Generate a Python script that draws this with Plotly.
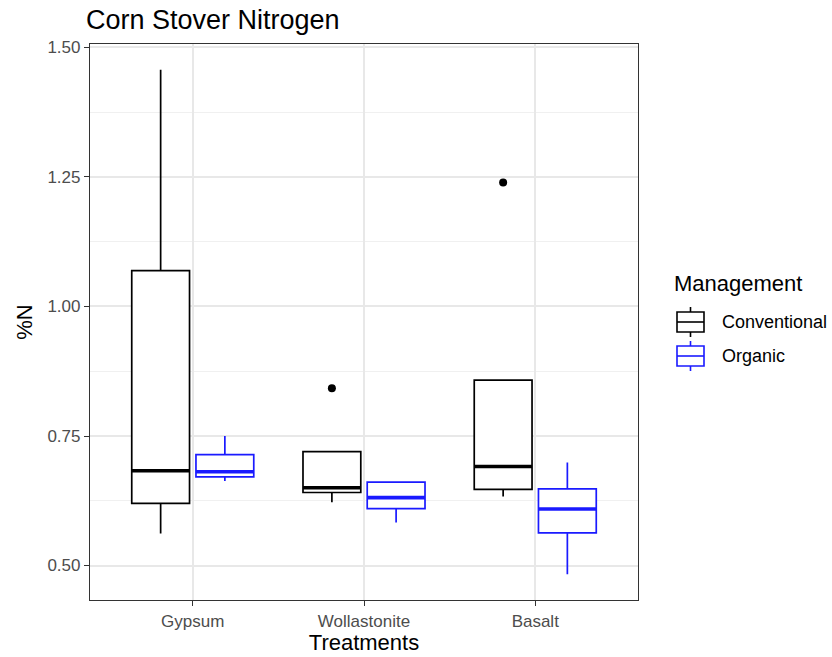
import plotly.graph_objects as go

# Corn stover %N by treatment and management (box summaries)
treatments = ["Gypsum", "Wollastonite", "Basalt"]

conv_low = [0.562, 0.622, 0.633]
conv_q1 = [0.620, 0.641, 0.647]
conv_med = [0.683, 0.650, 0.691]
conv_q3 = [1.069, 0.720, 0.858]
conv_high = [1.457, 0.720, 0.858]
conv_out_treat = ["Wollastonite", "Basalt"]
conv_out_val = [0.842, 1.239]

org_low = [0.663, 0.583, 0.483]
org_q1 = [0.671, 0.610, 0.563]
org_med = [0.681, 0.631, 0.609]
org_q3 = [0.714, 0.661, 0.648]
org_high = [0.750, 0.661, 0.699]

management = ["Conventional", "Organic"]
colors = ["black", "#1a1aff"]
offsets = [-0.1875, 0.1875]
stats = [
    (conv_low, conv_q1, conv_med, conv_q3, conv_high),
    (org_low, org_q1, org_med, org_q3, org_high),
]
BOX_W = 0.3375

FONT = "Liberation Sans, Arial, sans-serif"
W, H = 832, 657
ML, MR, MT, MB = 90, 194, 44, 57
PW, PH = W - ML - MR, H - MT - MB

fig = go.Figure()

for name, color, off, (lo, q1, med, q3, hi) in zip(management, colors, offsets, stats):
    xs = [i + 1 + off for i in range(len(treatments))]
    fig.add_trace(go.Box(
        name=name, x=xs, lowerfence=lo, q1=q1, median=med, q3=q3, upperfence=hi,
        width=BOX_W, whiskerwidth=0, fillcolor="white",
        line=dict(color=color, width=1.7), showlegend=False,
    ))
    # heavier median bar
    for x, m in zip(xs, med):
        fig.add_trace(go.Scatter(
            x=[x - BOX_W / 2, x + BOX_W / 2], y=[m, m], mode="lines",
            line=dict(color=color, width=3.6), showlegend=False, hoverinfo="skip",
        ))

# outlying points for the conventional group
fig.add_trace(go.Scatter(
    x=[treatments.index(t) + 1 - 0.1875 for t in conv_out_treat], y=conv_out_val,
    mode="markers", marker=dict(color="black", size=8), showlegend=False,
))


def px_x(p):
    return (p - ML) / PW


def px_y(p):
    return (MT + PH - p) / PH


# legend drawn as box-shaped keys beside the panel
shapes = []
annotations = [dict(
    text="Management", x=px_x(672), y=px_y(283), xref="paper", yref="paper",
    xanchor="left", yanchor="middle", showarrow=False,
    font=dict(family=FONT, size=22, color="black"),
)]
for k, (name, color) in enumerate(zip(management, colors)):
    cy = 322 + 34 * k
    x0, x1, xc = 677, 704, 690.5
    line = dict(color=color, width=1.6)
    shapes += [
        dict(type="rect", xref="paper", yref="paper", x0=px_x(x0), x1=px_x(x1),
             y0=px_y(cy - 10), y1=px_y(cy + 10), line=line, fillcolor="white"),
        dict(type="line", xref="paper", yref="paper", x0=px_x(x0), x1=px_x(x1),
             y0=px_y(cy), y1=px_y(cy), line=line),
        dict(type="line", xref="paper", yref="paper", x0=px_x(xc), x1=px_x(xc),
             y0=px_y(cy - 15), y1=px_y(cy - 10), line=line),
        dict(type="line", xref="paper", yref="paper", x0=px_x(xc), x1=px_x(xc),
             y0=px_y(cy + 10), y1=px_y(cy + 15), line=line),
    ]
    annotations.append(dict(
        text=name, x=px_x(720), y=px_y(cy), xref="paper", yref="paper",
        xanchor="left", yanchor="middle", showarrow=False,
        font=dict(family=FONT, size=18, color="black"),
    ))

axis_common = dict(
    showline=True, linecolor="#333333", linewidth=1.2, mirror=True,
    ticks="outside", ticklen=5, tickcolor="#333333", tickwidth=1.2,
    tickfont=dict(family=FONT, size=17, color="#4d4d4d"),
    gridcolor="#e8e8e8", gridwidth=1.5, zeroline=False, automargin=False,
)

fig.update_layout(
    width=W, height=H,
    margin=dict(l=ML, r=MR, t=MT, b=MB),
    paper_bgcolor="white", plot_bgcolor="white",
    title=dict(text="Corn Stover Nitrogen", x=86 / W, xref="container", xanchor="left",
               y=1 - 20 / H, yref="container", yanchor="middle",
               font=dict(family=FONT, size=27, color="black")),
    xaxis=dict(range=[0.4, 3.6], tickvals=[1, 2, 3], ticktext=treatments,
               title=dict(text="Treatments", font=dict(family=FONT, size=22, color="black"), standoff=3),
               **axis_common),
    yaxis=dict(range=[0.4335, 1.5065], tickvals=[0.5, 0.75, 1.0, 1.25, 1.5],
               ticktext=["0.50", "0.75", "1.00", "1.25", "1.50"],
               title=dict(text="%N", font=dict(family=FONT, size=22, color="black"), standoff=8),
               minor=dict(tickvals=[0.625, 0.875, 1.125, 1.375], showgrid=True,
                          gridcolor="#f0f0f0", gridwidth=1, ticks=""),
               **axis_common),
    shapes=shapes,
    annotations=annotations,
    showlegend=False,
)

fig.write_html("out.html")
